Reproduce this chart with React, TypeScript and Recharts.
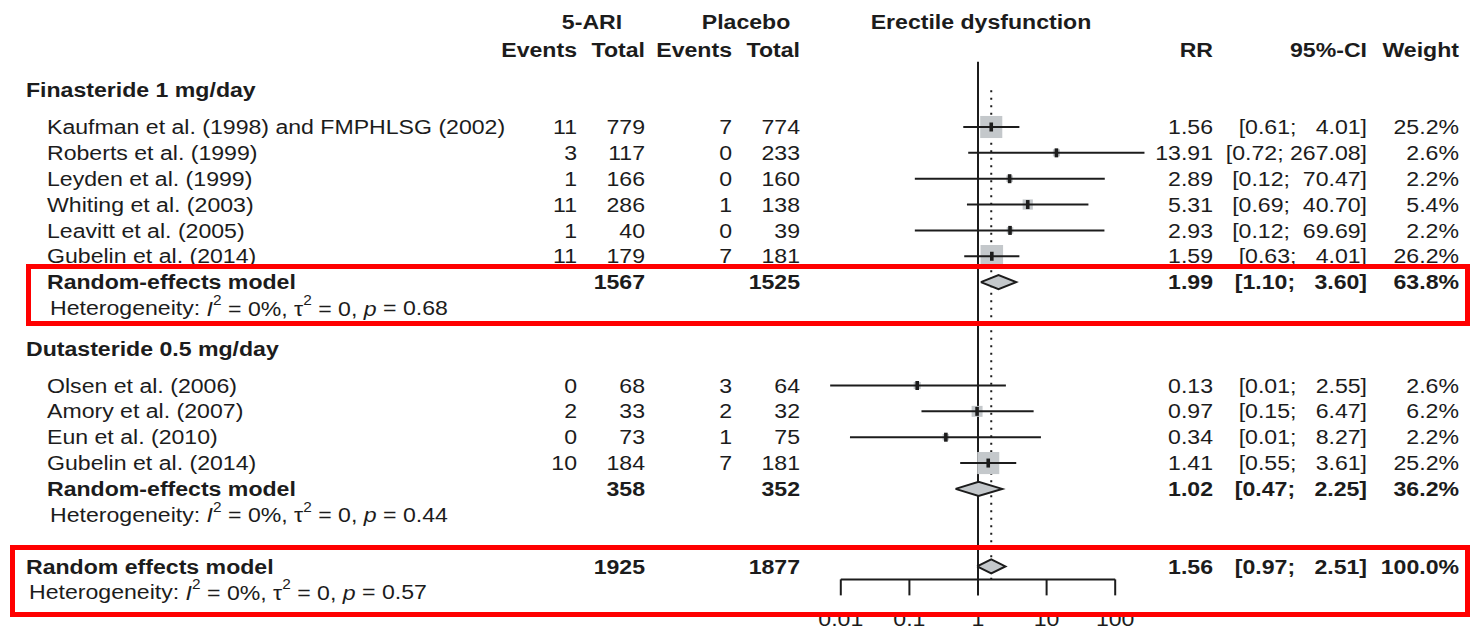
import { ComposedChart, XAxis, YAxis, Scatter } from 'recharts';

const W = 1483;
const H = 631;

// ---- data ----
const groupNames = ['Finasteride 1 mg/day', 'Dutasteride 0.5 mg/day'];
const studyNames = [
  'Kaufman et al. (1998) and FMPHLSG (2002)',
  'Roberts et al. (1999)',
  'Leyden et al. (1999)',
  'Whiting et al. (2003)',
  'Leavitt et al. (2005)',
  'Gubelin et al. (2014)',
  'Olsen et al. (2006)',
  'Amory et al. (2007)',
  'Eun et al. (2010)',
  'Gubelin et al. (2014)',
];
const studyGroup = [0, 0, 0, 0, 0, 0, 1, 1, 1, 1];
const ariEvents = [11, 3, 1, 11, 1, 11, 0, 2, 0, 10];
const ariTotal = [779, 117, 166, 286, 40, 179, 68, 33, 73, 184];
const plaEvents = [7, 0, 0, 1, 0, 7, 3, 2, 1, 7];
const plaTotal = [774, 233, 160, 138, 39, 181, 64, 32, 75, 181];
const studyRR = [1.56, 13.91, 2.89, 5.31, 2.93, 1.59, 0.13, 0.97, 0.34, 1.41];
const studyLow = [0.61, 0.72, 0.12, 0.69, 0.12, 0.63, 0.007, 0.15, 0.0136, 0.55];
const studyHigh = [4.01, 267.08, 70.47, 40.7, 69.69, 4.01, 2.55, 6.47, 8.27, 3.61];
const studyWeight = [25.2, 2.6, 2.2, 5.4, 2.2, 26.2, 2.6, 6.2, 2.2, 25.2];

const pooledNames = ['Random-effects model', 'Random-effects model', 'Random effects model'];
const pooledAriTotal = [1567, 358, 1925];
const pooledPlaTotal = [1525, 352, 1877];
const pooledRR = [1.99, 1.02, 1.56];
const pooledLow = [1.1, 0.47, 0.97];
const pooledHigh = [3.6, 2.25, 2.51];
const pooledWeight = [63.8, 36.2, 100.0];
const hetI2 = [0, 0, 0];
const hetTau2 = [0, 0, 0];
const hetP = [0.68, 0.44, 0.57];

const headTop = ['5-ARI', 'Placebo', 'Erectile dysfunction'];
const headCols = ['Events', 'Total', 'Events', 'Total', 'RR', '95%-CI', 'Weight'];
const axisTicks = [0.01, 0.1, 1, 10, 100];

// ---- layout ----
const ROW_PX = 25.85; // distance between table rows
const ROW0_PX = 127; // centre of the first study row
const ONE_PX = 978; // where RR = 1 sits
const DECADE_PX = 68.6;
const FONT = '"Liberation Sans", Arial, Helvetica, sans-serif';
const FS = 21;
const SX = 1.1;
const INK = '#1c1c1c';
const BOX = '#c4c8cb';
const BOX_K = 4.4;

const Y_DOMAIN = [-ROW0_PX / ROW_PX, (H - ROW0_PX) / ROW_PX];
const LOG_DOMAIN = [10 ** (-ONE_PX / DECADE_PX), 10 ** ((W - ONE_PX) / DECADE_PX)];

const HEAD1_ROW = -4.06;
const HEAD2_ROW = -2.98;
const TOP_CENTERS = [592, 746, 981];
const COL_RIGHT = [577, 645, 732, 800, 1213, 1367, 1459];
const X_GROUP = 26;
const X_STUDY = 47;
const X_HET = 50;
const X_OVERALL = 26;
const X_OVERALL_HET = 29;
const AXIS_ROW = 17.5;
const TICK_ROWS = 16 / ROW_PX;
const TICK_LABEL_ROW = (619 - ROW0_PX) / ROW_PX;
const DIAMOND_HALF = 7 / ROW_PX;

// row numbers for each line of the table
const studyRows: number[] = [];
const groupRows: number[] = [];
const pooledRows: number[] = [];
let cursor = 0;
groupNames.forEach((_, g) => {
  groupRows.push(cursor - 1.42);
  studyNames.forEach((_, i) => {
    if (studyGroup[i] === g) {
      studyRows[i] = cursor;
      cursor += 1;
    }
  });
  pooledRows.push(cursor);
  cursor += 4;
});
pooledRows.push(pooledRows[pooledRows.length - 1] + 3);

const ciText = (lo: number, hi: number) => `[${lo.toFixed(2)};${hi.toFixed(2).padStart(7)}]`;

type TextItem = {
  x: number;
  y: number;
  label: string;
  anchor: 'start' | 'middle' | 'end';
  bold?: boolean;
  het?: number;
};

const tableText: TextItem[] = [];
headTop.forEach((t, i) => tableText.push({ x: TOP_CENTERS[i], y: HEAD1_ROW, label: t, anchor: 'middle', bold: true }));
headCols.forEach((t, i) => tableText.push({ x: COL_RIGHT[i], y: HEAD2_ROW, label: t, anchor: 'end', bold: true }));
groupNames.forEach((g, i) => tableText.push({ x: X_GROUP, y: groupRows[i], label: g, anchor: 'start', bold: true }));
studyNames.forEach((s, i) => {
  const y = studyRows[i];
  const cells = [
    String(ariEvents[i]),
    String(ariTotal[i]),
    String(plaEvents[i]),
    String(plaTotal[i]),
    studyRR[i].toFixed(2),
    ciText(studyLow[i], studyHigh[i]),
    `${studyWeight[i].toFixed(1)}%`,
  ];
  tableText.push({ x: X_STUDY, y, label: s, anchor: 'start' });
  cells.forEach((c, k) => tableText.push({ x: COL_RIGHT[k], y, label: c, anchor: 'end' }));
});
pooledNames.forEach((p, i) => {
  const y = pooledRows[i];
  const overall = i === pooledNames.length - 1;
  tableText.push({ x: overall ? X_OVERALL : X_STUDY, y, label: p, anchor: 'start', bold: true });
  const cells: [number, string][] = [
    [1, String(pooledAriTotal[i])],
    [3, String(pooledPlaTotal[i])],
    [4, pooledRR[i].toFixed(2)],
    [5, ciText(pooledLow[i], pooledHigh[i])],
    [6, `${pooledWeight[i].toFixed(1)}%`],
  ];
  cells.forEach(([k, c]) => tableText.push({ x: COL_RIGHT[k], y, label: c, anchor: 'end', bold: true }));
  tableText.push({ x: overall ? X_OVERALL_HET : X_HET, y: y + 1, label: '', anchor: 'start', het: i });
});

const tickText: TextItem[] = axisTicks.map((t) => ({ x: t, y: TICK_LABEL_ROW, label: String(t), anchor: 'middle' }));

const studyPoints = studyNames.map((_, i) => ({ x: studyRR[i], y: studyRows[i], w: studyWeight[i] }));

// line segments drawn on the log axis
type Seg = { pts: { x: number; y: number }[]; width: number; dash?: string; fill?: string };
const firstRow = Math.min(...groupRows);
const refLines: Seg[] = [
  { pts: [{ x: 1, y: HEAD2_ROW + 0.46 }, { x: 1, y: AXIS_ROW }], width: 2 },
  { pts: [{ x: pooledRR[2], y: firstRow }, { x: pooledRR[2], y: AXIS_ROW }], width: 2, dash: '2 5.5' },
  { pts: [{ x: axisTicks[0], y: AXIS_ROW }, { x: axisTicks[axisTicks.length - 1], y: AXIS_ROW }], width: 2 },
  ...axisTicks.map((t) => ({ pts: [{ x: t, y: AXIS_ROW }, { x: t, y: AXIS_ROW + TICK_ROWS }], width: 2 })),
];
const ciLines: Seg[] = studyNames.map((_, i) => ({
  pts: [{ x: studyLow[i], y: studyRows[i] }, { x: studyHigh[i], y: studyRows[i] }],
  width: 2,
}));
const diamonds: Seg[] = pooledRR.map((rr, i) => {
  const y = pooledRows[i];
  return {
    pts: [
      { x: pooledLow[i], y },
      { x: rr, y: y - DIAMOND_HALF },
      { x: pooledHigh[i], y },
      { x: rr, y: y + DIAMOND_HALF },
      { x: pooledLow[i], y },
    ],
    width: 2,
    fill: BOX,
  };
});

const Blank = () => <g />;

function BoxShape(props: any) {
  const { cx, cy, payload } = props;
  const s = BOX_K * Math.sqrt(payload.w);
  return <rect x={cx - s / 2} y={cy - s / 2} width={s} height={s} fill={BOX} />;
}

function Marker(props: any) {
  const { cx, cy } = props;
  return <rect x={cx - 1.8} y={cy - 4.5} width={3.6} height={9} fill={INK} />;
}

function TextShape(props: any) {
  const { cx, cy, payload } = props;
  const p = payload as TextItem;
  const base = {
    transform: `translate(${cx},${cy}) scale(${SX},1)`,
    textAnchor: p.anchor,
    dominantBaseline: 'central' as const,
    fontFamily: FONT,
    fontSize: FS,
    fontWeight: p.bold ? 700 : 400,
    fill: INK,
    xmlSpace: 'preserve',
    style: { whiteSpace: 'pre' as const },
  };
  if (p.het !== undefined) {
    const i = p.het;
    return (
      <text {...base}>
        {'Heterogeneity: '}
        <tspan fontStyle="italic">I</tspan>
        <tspan dy={-8} fontSize={14}>2</tspan>
        <tspan dy={8}>{` = ${hetI2[i]}%, \u03c4`}</tspan>
        <tspan dy={-8} fontSize={14}>2</tspan>
        <tspan dy={8}>{` = ${hetTau2[i]}, `}</tspan>
        <tspan fontStyle="italic">p</tspan>
        {` = ${hetP[i].toFixed(2)}`}
      </text>
    );
  }
  return <text {...base}>{p.label}</text>;
}

const renderSeg = (s: Seg, key: string) => (
  <Scatter
    key={key}
    xAxisId="log"
    data={s.pts}
    shape={Blank}
    line={{ stroke: INK, strokeWidth: s.width, strokeDasharray: s.dash, fill: s.fill ?? 'none' }}
    isAnimationActive={false}
  />
);

export default function App() {
  return (
    <div style={{ position: 'absolute', left: 0, top: 0, width: W, height: H, background: '#fff' }}>
      <ComposedChart width={W} height={H} margin={{ top: 0, right: 0, bottom: 0, left: 0 }}>
        <XAxis xAxisId="log" type="number" dataKey="x" scale="log" domain={LOG_DOMAIN} allowDataOverflow hide />
        <XAxis xAxisId="px" type="number" dataKey="x" domain={[0, W]} allowDataOverflow hide />
        <YAxis type="number" dataKey="y" domain={Y_DOMAIN} reversed allowDataOverflow hide />

        {refLines.map((s, i) => renderSeg(s, `ref-${i}`))}
        <Scatter xAxisId="log" data={studyPoints} shape={BoxShape} isAnimationActive={false} />
        {ciLines.map((s, i) => renderSeg(s, `ci-${i}`))}
        <Scatter xAxisId="log" data={studyPoints} shape={Marker} isAnimationActive={false} />
        {diamonds.map((s, i) => renderSeg(s, `dia-${i}`))}

        <Scatter xAxisId="log" data={tickText} shape={TextShape} isAnimationActive={false} />
        <Scatter xAxisId="px" data={tableText} shape={TextShape} isAnimationActive={false} />
      </ComposedChart>
      <div
        style={{
          position: 'absolute', left: 26, top: 264, width: 1444, height: 62,
          border: '5px solid #ff0000', boxSizing: 'border-box', pointerEvents: 'none',
        }}
      />
      <div
        style={{
          position: 'absolute', left: 10, top: 545, width: 1460, height: 72,
          border: '5px solid #ff0000', boxSizing: 'border-box', pointerEvents: 'none',
        }}
      />
    </div>
  );
}
